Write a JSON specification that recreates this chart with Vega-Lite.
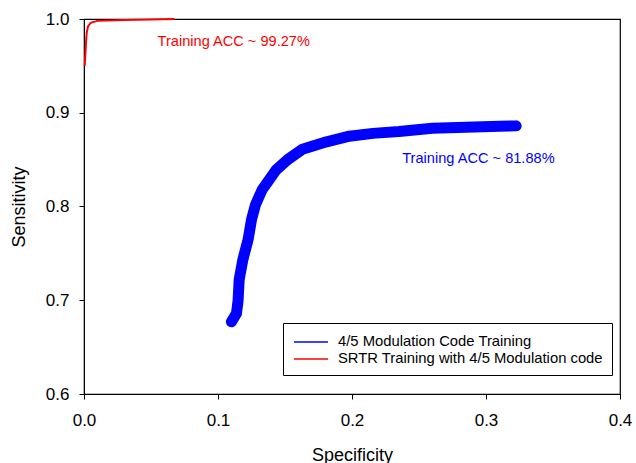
{
  "$schema": "https://vega.github.io/schema/vega-lite/v6.json",
  "width": 536,
  "height": 375,
  "autosize": "none",
  "padding": {"left": 84, "top": 19, "right": 16, "bottom": 69},
  "config": {
    "font": "Liberation Sans",
    "view": {"stroke": "#000000", "strokeWidth": 1.2},
    "axis": {
      "grid": false,
      "domainColor": "#000000",
      "tickColor": "#000000",
      "tickSize": 5,
      "labelFontSize": 17,
      "labelColor": "#000000",
      "labelFlush": false,
      "titleFontSize": 18,
      "titleFontWeight": "normal",
      "titleColor": "#000000"
    }
  },
  "datasets": {
    "blue": [
      {"sx": 0.110, "sy": 0.677, "o": 1},
      {"sx": 0.1138, "sy": 0.686, "o": 2},
      {"sx": 0.1150, "sy": 0.700, "o": 3},
      {"sx": 0.1158, "sy": 0.722, "o": 4},
      {"sx": 0.1185, "sy": 0.743, "o": 5},
      {"sx": 0.1225, "sy": 0.765, "o": 6},
      {"sx": 0.1250, "sy": 0.786, "o": 7},
      {"sx": 0.1280, "sy": 0.802, "o": 8},
      {"sx": 0.1330, "sy": 0.818, "o": 9},
      {"sx": 0.1434, "sy": 0.839, "o": 10},
      {"sx": 0.1520, "sy": 0.850, "o": 11},
      {"sx": 0.1630, "sy": 0.861, "o": 12},
      {"sx": 0.1810, "sy": 0.869, "o": 13},
      {"sx": 0.1980, "sy": 0.875, "o": 14},
      {"sx": 0.2155, "sy": 0.878, "o": 15},
      {"sx": 0.2350, "sy": 0.880, "o": 16},
      {"sx": 0.2600, "sy": 0.8835, "o": 17},
      {"sx": 0.2850, "sy": 0.8845, "o": 18},
      {"sx": 0.3100, "sy": 0.8855, "o": 19},
      {"sx": 0.3225, "sy": 0.886, "o": 20}
    ],
    "lines": [
      {"sx": 0.110, "sy": 0.677, "o": 1, "series": "4/5 Modulation Code Training"},
      {"sx": 0.1138, "sy": 0.686, "o": 2, "series": "4/5 Modulation Code Training"},
      {"sx": 0.1150, "sy": 0.700, "o": 3, "series": "4/5 Modulation Code Training"},
      {"sx": 0.1158, "sy": 0.722, "o": 4, "series": "4/5 Modulation Code Training"},
      {"sx": 0.1185, "sy": 0.743, "o": 5, "series": "4/5 Modulation Code Training"},
      {"sx": 0.1225, "sy": 0.765, "o": 6, "series": "4/5 Modulation Code Training"},
      {"sx": 0.1250, "sy": 0.786, "o": 7, "series": "4/5 Modulation Code Training"},
      {"sx": 0.1280, "sy": 0.802, "o": 8, "series": "4/5 Modulation Code Training"},
      {"sx": 0.1330, "sy": 0.818, "o": 9, "series": "4/5 Modulation Code Training"},
      {"sx": 0.1434, "sy": 0.839, "o": 10, "series": "4/5 Modulation Code Training"},
      {"sx": 0.1520, "sy": 0.850, "o": 11, "series": "4/5 Modulation Code Training"},
      {"sx": 0.1630, "sy": 0.861, "o": 12, "series": "4/5 Modulation Code Training"},
      {"sx": 0.1810, "sy": 0.869, "o": 13, "series": "4/5 Modulation Code Training"},
      {"sx": 0.1980, "sy": 0.875, "o": 14, "series": "4/5 Modulation Code Training"},
      {"sx": 0.2155, "sy": 0.878, "o": 15, "series": "4/5 Modulation Code Training"},
      {"sx": 0.2350, "sy": 0.880, "o": 16, "series": "4/5 Modulation Code Training"},
      {"sx": 0.2600, "sy": 0.8835, "o": 17, "series": "4/5 Modulation Code Training"},
      {"sx": 0.2850, "sy": 0.8845, "o": 18, "series": "4/5 Modulation Code Training"},
      {"sx": 0.3100, "sy": 0.8855, "o": 19, "series": "4/5 Modulation Code Training"},
      {"sx": 0.3225, "sy": 0.886, "o": 20, "series": "4/5 Modulation Code Training"},
      {"sx": 0.0005, "sy": 0.950, "o": 1, "series": "SRTR Training with 4/5 Modulation code"},
      {"sx": 0.0010, "sy": 0.962, "o": 2, "series": "SRTR Training with 4/5 Modulation code"},
      {"sx": 0.0015, "sy": 0.975, "o": 3, "series": "SRTR Training with 4/5 Modulation code"},
      {"sx": 0.0020, "sy": 0.985, "o": 4, "series": "SRTR Training with 4/5 Modulation code"},
      {"sx": 0.0030, "sy": 0.992, "o": 5, "series": "SRTR Training with 4/5 Modulation code"},
      {"sx": 0.0050, "sy": 0.996, "o": 6, "series": "SRTR Training with 4/5 Modulation code"},
      {"sx": 0.0100, "sy": 0.998, "o": 7, "series": "SRTR Training with 4/5 Modulation code"},
      {"sx": 0.0300, "sy": 0.999, "o": 8, "series": "SRTR Training with 4/5 Modulation code"},
      {"sx": 0.0500, "sy": 0.9995, "o": 9, "series": "SRTR Training with 4/5 Modulation code"},
      {"sx": 0.0675, "sy": 1.000, "o": 10, "series": "SRTR Training with 4/5 Modulation code"}
    ],
    "notes": [
      {"sx": 0.0549, "sy": 0.976, "label": "Training ACC ~ 99.27%", "c": "red"},
      {"sx": 0.2375, "sy": 0.851, "label": "Training ACC ~ 81.88%", "c": "blue"}
    ]
  },
  "layer": [
    {
      "data": {"name": "blue"},
      "mark": {"type": "line", "color": "#0000ff", "strokeWidth": 11, "strokeJoin": "round", "strokeCap": "round"},
      "encoding": {
        "x": {"field": "sx", "type": "quantitative", "scale": {"domain": [0, 0.4]}, "axis": {"title": "Specificity", "values": [0, 0.1, 0.2, 0.3, 0.4], "format": ".1f", "labelPadding": 13, "titlePadding": 18}},
        "y": {"field": "sy", "type": "quantitative", "scale": {"domain": [0.6, 1.0]}, "axis": {"title": "Sensitivity", "values": [0.6, 0.7, 0.8, 0.9, 1.0], "format": ".1f", "labelPadding": 10, "titlePadding": 17}},
        "order": {"field": "o", "type": "quantitative"}
      }
    },
    {
      "data": {"name": "lines"},
      "mark": {"type": "line"},
      "encoding": {
        "x": {"field": "sx", "type": "quantitative"},
        "y": {"field": "sy", "type": "quantitative"},
        "order": {"field": "o", "type": "quantitative"},
        "strokeWidth": {"value": 2},
        "color": {
          "field": "series", "type": "nominal",
          "scale": {"domain": ["4/5 Modulation Code Training", "SRTR Training with 4/5 Modulation code"], "range": ["#0000ff", "#ff0000"]},
          "legend": {
            "title": null, "orient": "none", "legendX": 199, "legendY": 304,
            "strokeColor": "#000000", "fillColor": "#ffffff", "padding": 9,
            "symbolType": "M-0.89,0H2.89", "symbolSize": 324, "symbolStrokeWidth": 1.5,
            "labelFontSize": 14.8, "labelColor": "#000000", "labelOffset": 26, "labelLimit": 0, "rowPadding": 0
          }
        }
      }
    },
    {
      "data": {"name": "notes"},
      "mark": {"type": "text", "align": "left", "baseline": "middle", "fontSize": 14.6},
      "encoding": {
        "x": {"field": "sx", "type": "quantitative"},
        "y": {"field": "sy", "type": "quantitative"},
        "text": {"field": "label"},
        "color": {"field": "c", "type": "nominal", "scale": null}
      }
    }
  ]
}
